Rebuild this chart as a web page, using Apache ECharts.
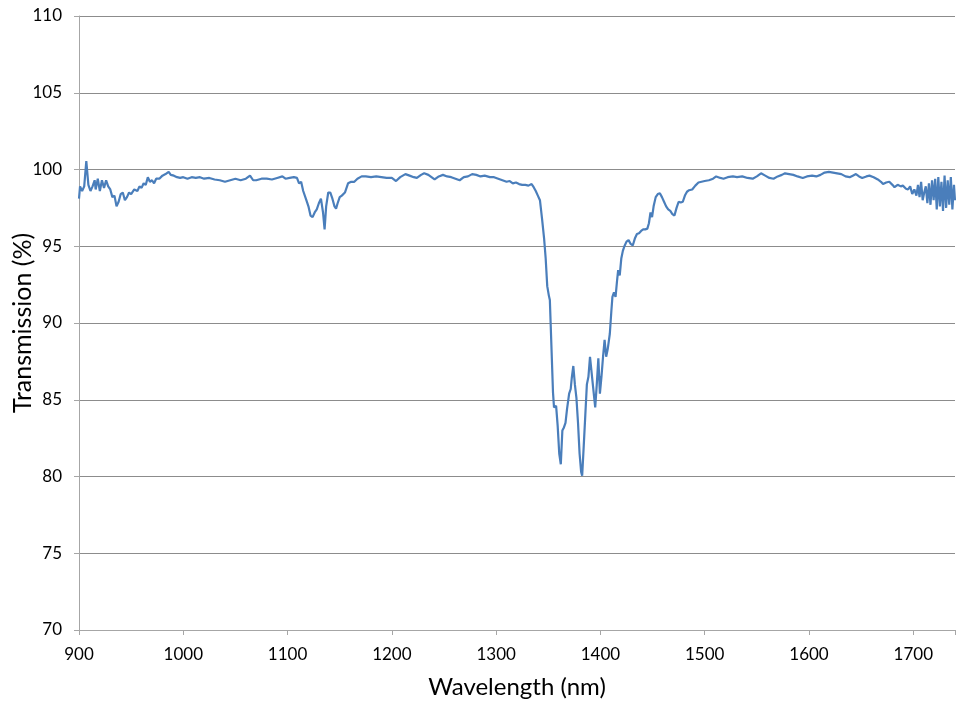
<!DOCTYPE html>
<html>
<head>
<meta charset="utf-8">
<script src="https://cdn.jsdelivr.net/npm/echarts@6/dist/echarts.min.js"></script>
<style>
html,body{margin:0;padding:0;background:#fff;}
#chart{width:956px;height:702px;}
</style>
</head>
<body>
<div id="chart"></div>
<script>
var wavelengths = [900,901,903,905,907,909,911,913,915,916,918,920,922,924,926,928,930,932,934,936,938,940,942,944,946,948,950,953,956,958,960,962,964,966,968,970,972,974,977,980,983,986,988,991,994,997,1000,1004,1008,1012,1016,1020,1025,1030,1035,1040,1045,1050,1055,1060,1064,1067,1070,1075,1080,1085,1090,1095,1098,1102,1106,1109,1111,1113,1115,1118,1120,1122,1124,1126,1128,1130,1132,1134,1135.5,1137,1139,1141,1143,1145,1146.5,1148,1150,1152,1155,1158,1161,1164,1167,1171,1175,1180,1185,1190,1195,1200,1204,1208,1213,1217,1221,1224,1228,1231,1235,1238,1241,1245,1249,1253,1257,1261,1265,1269,1273,1277,1281,1285,1289,1294,1298,1302,1306,1310,1313,1316,1319,1322,1325,1328,1331,1334,1336,1338,1340,1342,1344,1346,1347.5,1349,1350.5,1351.5,1353,1354.5,1355.5,1357.5,1359,1360.5,1362,1363.5,1365,1366.5,1368,1370,1371.5,1372.5,1374,1375.5,1377,1378.5,1380,1381.5,1382.5,1384,1385.5,1387,1388.5,1390,1391.5,1393,1395,1396.5,1398,1399.5,1401,1402.5,1404,1405.5,1407,1409,1410.5,1411.5,1413,1414.5,1416,1417,1418.5,1420,1421.5,1423,1425,1427,1429,1431,1433,1435,1437,1439,1441,1443,1445,1446.5,1448,1449.5,1451,1453,1455,1457,1459,1461,1463,1465,1467,1469,1471,1473,1475,1477,1479,1481,1483,1485,1488,1491,1494,1497,1500,1504,1508,1511,1515,1518,1522,1527,1531,1536,1541,1546,1550,1554,1558,1562,1566,1570,1574,1577,1581,1585,1589,1594,1598,1603,1607,1611,1615,1619,1623,1627,1631,1635,1639,1642,1645,1648,1651,1655,1658,1662,1666,1669,1671,1674,1677,1680,1682,1685,1688,1690,1693,1695,1697,1699,1701,1703,1704.5,1706,1707.5,1709,1710.5,1712,1713.5,1715,1716.5,1718,1719.5,1721,1722.5,1724,1725.5,1727,1728.5,1730,1731.5,1733,1734.5,1736,1737.5,1739,1740];
var transmission = [98.1,98.9,98.6,98.9,100.55,99.0,98.6,98.9,99.3,98.7,99.4,98.6,99.3,98.8,99.3,98.9,98.7,98.2,98.3,97.6,97.9,98.4,98.5,98.0,98.2,98.5,98.4,98.7,98.6,98.9,98.8,99.1,99.0,99.5,99.2,99.3,99.1,99.4,99.4,99.6,99.7,99.85,99.65,99.6,99.5,99.45,99.5,99.4,99.5,99.45,99.5,99.4,99.45,99.35,99.3,99.2,99.3,99.4,99.3,99.4,99.6,99.3,99.3,99.4,99.4,99.35,99.45,99.55,99.4,99.45,99.5,99.45,99.1,99.2,98.6,98.0,97.6,97.0,96.9,97.2,97.4,97.8,98.1,97.2,96.1,97.6,98.5,98.5,98.1,97.6,97.45,97.8,98.2,98.3,98.5,99.1,99.2,99.2,99.4,99.55,99.55,99.5,99.55,99.5,99.45,99.45,99.25,99.5,99.7,99.6,99.5,99.45,99.65,99.75,99.65,99.5,99.35,99.55,99.65,99.55,99.5,99.4,99.3,99.5,99.55,99.7,99.65,99.55,99.6,99.5,99.5,99.4,99.3,99.2,99.25,99.1,99.15,99.05,99.0,99.0,98.95,99.05,98.85,98.6,98.3,98.0,96.8,95.5,94.2,92.4,91.8,91.5,88.5,85.5,84.5,84.6,83.3,81.5,80.8,83.0,83.2,83.5,84.4,85.4,85.7,86.4,87.2,86.0,85.1,83.5,81.5,80.3,80.05,82.0,84.0,86.0,86.5,87.8,86.8,85.8,84.5,86.0,87.7,85.4,86.5,87.8,88.9,87.8,88.3,89.3,90.8,91.7,92.0,91.7,92.8,93.45,93.1,94.2,94.7,95.0,95.3,95.4,95.15,95.05,95.5,95.8,95.85,96.0,96.1,96.1,96.15,96.5,97.2,96.9,97.6,98.2,98.4,98.45,98.2,97.9,97.6,97.4,97.3,97.1,97.0,97.5,97.9,97.85,97.9,98.3,98.55,98.65,98.7,98.95,99.15,99.2,99.25,99.3,99.4,99.55,99.45,99.4,99.5,99.55,99.5,99.55,99.45,99.4,99.55,99.75,99.6,99.45,99.4,99.55,99.65,99.75,99.7,99.65,99.55,99.45,99.55,99.6,99.55,99.65,99.8,99.85,99.8,99.75,99.7,99.55,99.5,99.6,99.7,99.55,99.45,99.55,99.6,99.5,99.35,99.2,99.05,99.15,99.2,99.0,98.85,99.0,98.9,98.95,98.75,98.7,98.9,98.4,98.7,98.3,99.0,98.2,99.2,98.0,98.5,98.9,97.8,99.1,97.7,99.3,98.0,99.4,97.4,99.5,97.6,99.2,97.3,99.6,97.5,99.3,97.7,99.5,97.4,99.0,98.0];
var xTicks = [900,1000,1100,1200,1300,1400,1500,1600,1700];
var yTicks = [70,75,80,85,90,95,100,105,110];

var seriesData = wavelengths.map(function(w,i){ return [w, transmission[i]]; });
var chart = echarts.init(document.getElementById('chart'), null, {renderer:'canvas'});
var font = 'Lato, "Open Sans", "Liberation Sans", sans-serif';
chart.setOption({
  animation:false,
  backgroundColor:'#ffffff',
  grid:{left:79, right:1, top:16, bottom:72, containLabel:false, outerBoundsMode:'none'},
  xAxis:{
    type:'value', min:900, max:1740, interval:100,
    name:'Wavelength (nm)', nameLocation:'middle', nameGap:45, nameMoveOverlap:false,
    nameTextStyle:{fontFamily:font, fontSize:24, color:'#000'},
    axisLine:{show:true, lineStyle:{color:'#a6a6a6', width:1}},
    axisTick:{show:true, length:5, lineStyle:{color:'#a6a6a6'}},
    axisLabel:{fontFamily:font, fontSize:17, color:'#000', margin:16,
      formatter:function(v){ return xTicks.indexOf(v) >= 0 ? String(v) : ''; }},
    splitLine:{show:false}
  },
  yAxis:{
    type:'value', min:70, max:110, interval:5,
    name:'Transmission (%)', nameLocation:'middle', nameGap:44, nameRotate:90, nameMoveOverlap:false,
    nameTextStyle:{fontFamily:font, fontSize:25, color:'#000'},
    axisLine:{show:true, lineStyle:{color:'#a6a6a6', width:1}},
    axisTick:{show:true, length:5, lineStyle:{color:'#a6a6a6'}},
    axisLabel:{fontFamily:font, fontSize:17, color:'#000', margin:17,
      formatter:function(v){ return yTicks.indexOf(v) >= 0 ? String(v) : ''; }},
    splitLine:{show:true, lineStyle:{color:'#8c8c8c', width:1}}
  },
  series:[{
    type:'line', data:seriesData, showSymbol:false, symbol:'none',
    lineStyle:{color:'#4a7ebb', width:2.2}, itemStyle:{color:'#4a7ebb'},
    smooth:false
  }]
});
</script>
</body>
</html>
